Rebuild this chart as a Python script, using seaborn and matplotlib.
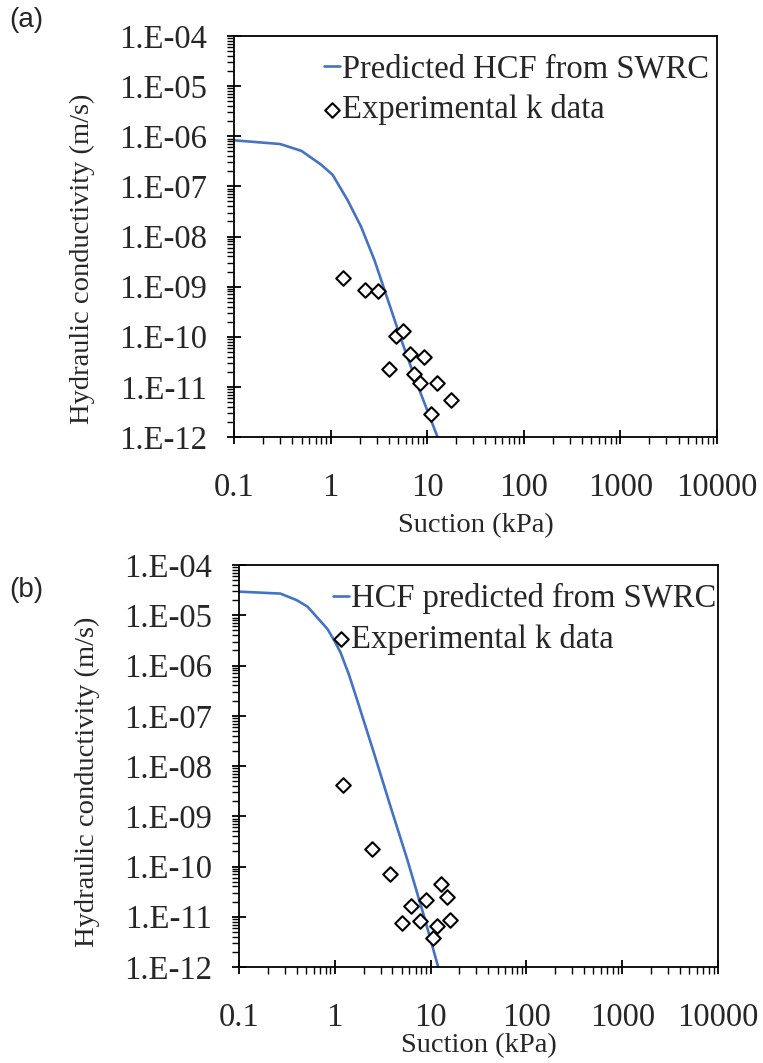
import numpy as np
import pandas as pd
import matplotlib
matplotlib.use("Agg")
import matplotlib.pyplot as plt
import matplotlib.ticker as mticker
import seaborn as sns

# ---- data ----
a_line_suction = [0.1, 0.3, 0.5, 0.8, 1.05, 1.5, 2.07, 2.84, 3.92, 5.41, 8.07, 12.8]
a_line_k = [8.3e-7, 7.0e-7, 5.1e-7, 2.7e-7, 1.7e-7, 5.3e-8, 1.56e-8, 3.4e-9, 5.4e-10, 8.5e-11, 1.0e-11, 1.0e-12]
a_exp_suction = [1.34, 2.29, 3.08, 4.71, 5.57, 6.59, 9.16, 4.05, 7.33, 8.39, 12.7, 17.8, 10.97]
a_exp_k = [1.5e-9, 8.5e-10, 8.1e-10, 1.04e-10, 1.28e-10, 4.5e-11, 3.87e-11, 2.25e-11, 1.77e-11, 1.2e-11, 1.17e-11, 5.4e-12, 2.85e-12]

b_line_suction = [0.1, 0.27, 0.4, 0.52, 0.84, 1.0, 1.15, 1.4, 1.72, 2.57, 3.84, 5.74, 8.57, 12.0]
b_line_k = [2.95e-5, 2.7e-5, 2.0e-5, 1.48e-5, 5.3e-6, 3.0e-6, 1.8e-6, 6.7e-7, 2.0e-7, 1.78e-8, 1.5e-9, 1.33e-10, 1.0e-11, 1.0e-12]
b_exp_suction = [1.23, 2.43, 3.75, 6.22, 8.87, 12.8, 14.8, 5.01, 7.67, 15.8, 11.7, 10.5]
b_exp_k = [4.1e-9, 2.27e-10, 7.0e-11, 1.66e-11, 2.15e-11, 4.56e-11, 2.5e-11, 7.6e-12, 8.2e-12, 8.7e-12, 6.6e-12, 3.8e-12]

x_ticks = [0.1, 1, 10, 100, 1000, 10000]
x_ticklabels = ["0.1", "1", "10", "100", "1000", "10000"]
y_exponents = [-4, -5, -6, -7, -8, -9, -10, -11, -12]

panels = [
    ("(a)", "Predicted HCF from SWRC", a_line_suction, a_line_k, a_exp_suction, a_exp_k),
    ("(b)", "HCF predicted from SWRC", b_line_suction, b_line_k, b_exp_suction, b_exp_k),
]

sns.set_style("white")
plt.rcParams["font.family"] = ["Liberation Serif", "DejaVu Serif"]

W, H = 763, 1063
fig = plt.figure(figsize=(W / 100, H / 100), dpi=100)

axes_px = [(234, 36, 717, 437), (239, 565, 718, 967)]
label_pos = [(9, 20), (9, 590)]
ylabel_y = [0.445, 0.46]
xlabel_pad = [7, 0]
legend_shift = [10, 16]

fs_tick = 23.5
fs_title = 20.5
blue = "#4472C4"

for i, (tag, line_name, lx, ly, ex, ey) in enumerate(panels):
    l, t, r, b = axes_px[i]
    tx, ty = label_pos[i]
    ax = fig.add_axes([l / W, 1 - b / H, (r - l) / W, (b - t) / H])
    line_df = pd.DataFrame({"Suction": lx, "k": ly})
    exp_df = pd.DataFrame({"Suction": ex, "k": ey})
    sns.lineplot(data=line_df, x="Suction", y="k", ax=ax, color=blue, lw=1.9,
                 label=line_name, sort=False, estimator=None)
    sns.scatterplot(data=exp_df, x="Suction", y="k", ax=ax, marker="D", s=55,
                    facecolor="white", edgecolor="black", linewidth=1.5,
                    label="Experimental k data", zorder=3)
    ax.set_xscale("log")
    ax.set_yscale("log")
    ax.set_xlim(0.1, 10000)
    ax.set_ylim(1e-12, 1e-4)
    ax.set_xticks(x_ticks)
    ax.set_xticklabels(x_ticklabels)
    yt = [10.0 ** e for e in y_exponents]
    ax.set_yticks(yt)
    ax.set_yticklabels([f"1.E-{abs(e):02d}" for e in y_exponents])
    ax.xaxis.set_minor_locator(mticker.LogLocator(base=10, subs=np.arange(2, 10), numticks=100))
    ax.yaxis.set_minor_locator(mticker.LogLocator(base=10, subs=np.arange(2, 10), numticks=100))
    ax.xaxis.set_minor_formatter(mticker.NullFormatter())
    ax.yaxis.set_minor_formatter(mticker.NullFormatter())
    ax.tick_params(which="major", direction="inout", length=9.4, width=1.3,
                   labelsize=fs_tick, color="black", bottom=True, left=True)
    ax.tick_params(axis="x", which="major", pad=21)
    ax.tick_params(axis="y", which="major", pad=15)
    ax.tick_params(which="minor", direction="out", length=5, width=1.0,
                   color="black", bottom=True, left=True)
    for s in ax.spines.values():
        s.set_color("black")
        s.set_linewidth(1.3)
    ax.set_xlabel("Suction (kPa)", fontsize=fs_title, labelpad=xlabel_pad[i])
    ax.set_ylabel("Hydraulic conductivity (m/s)", fontsize=fs_title, labelpad=17)
    ax.yaxis.label.set_y(ylabel_y[i])
    ax.legend(loc="upper right", bbox_to_anchor=(1 + legend_shift[i] / (r - l), 1.0),
              frameon=False, fontsize=fs_tick,
              handlelength=0.5, handletextpad=0.05, borderaxespad=0.0,
              labelspacing=0.3, borderpad=0.55)
    fig.text(tx / W, 1 - ty / H, tag, fontsize=20, family=["Liberation Sans", "DejaVu Sans"],
             ha="left", va="center")

fig.savefig("out.png", dpi=100)
